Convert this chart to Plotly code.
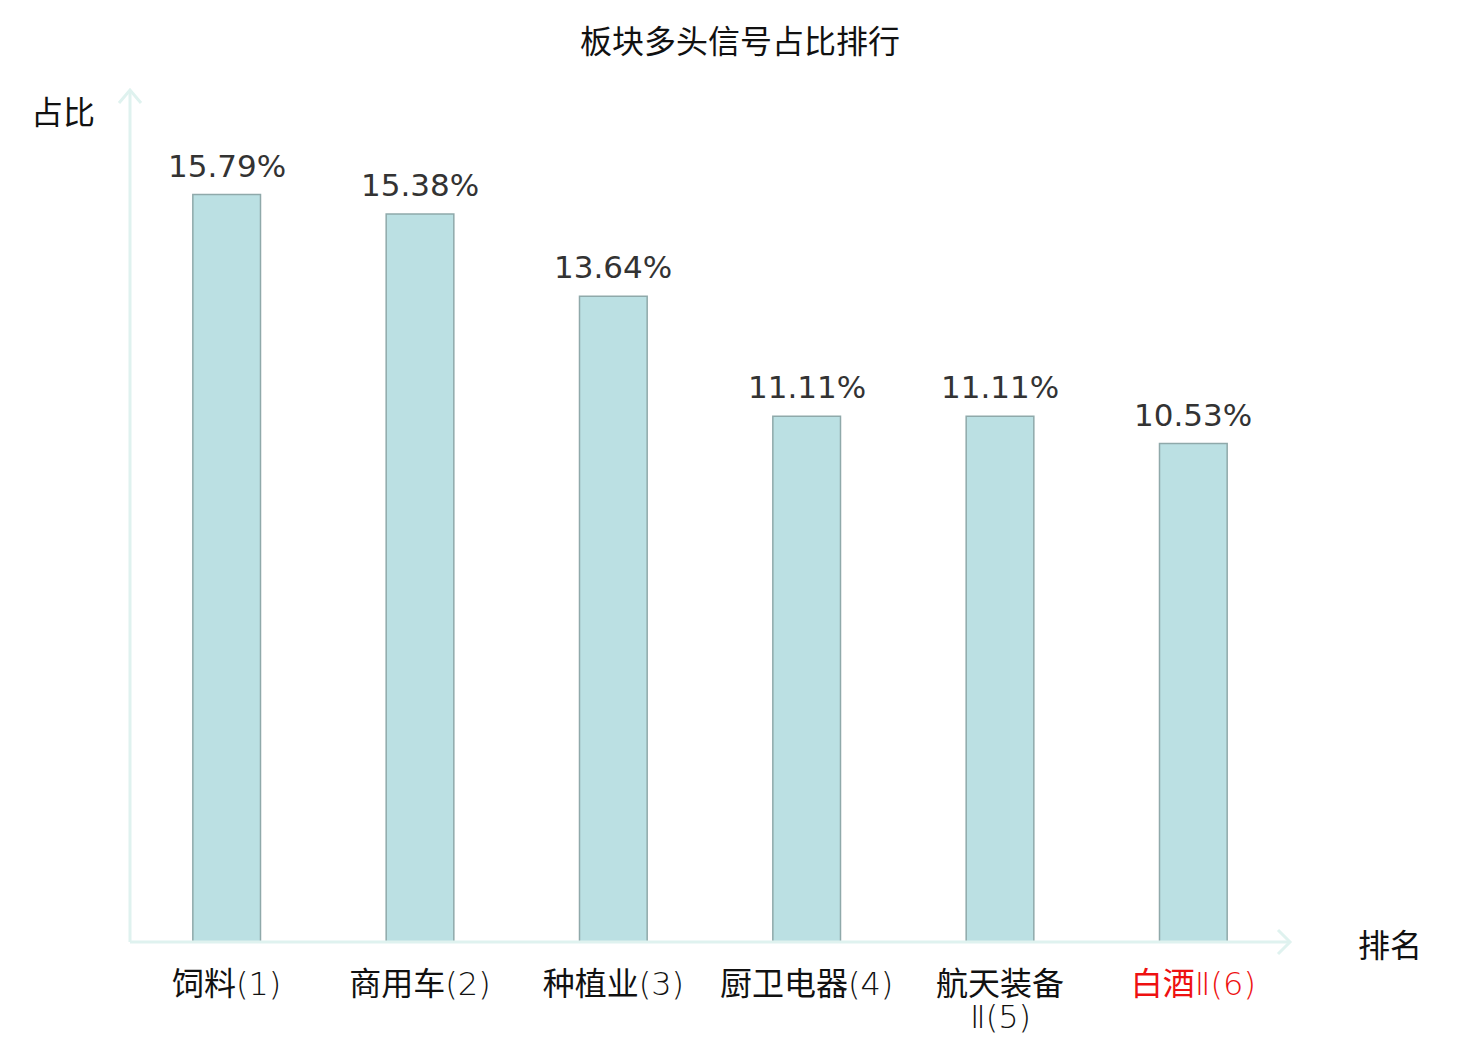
import plotly.graph_objects as go

title = "板块多头信号占比排行"
tick_labels = ["饲料(1)", "商用车(2)", "种植业(3)", "厨卫电器(4)", "航天装备<br>Ⅱ(5)", "白酒Ⅱ(6)"]
highlight = [False, False, False, False, False, True]
values = [15.79, 15.38, 13.64, 11.11, 11.11, 10.53]
value_labels = ["15.79%", "15.38%", "13.64%", "11.11%", "11.11%", "10.53%"]
y_label = "占比"
x_label = "排名"

W, H = 1480, 1040
OFF = 8  # page body margin
L, R, T, B = 130 - OFF, 190 + OFF, 90 - OFF, 106
pw, ph = W - L - R, H - T - B

cjk = "Noto Sans CJK SC"
LATIN = "font-family:'DejaVu Sans';font-weight:200"
TXT = "#111111"


def is_cjk(ch):
    return "\u4e00" <= ch <= "\u9fff"


def style_seg(seg):
    out, buf, mode = [], "", None
    for ch in seg:
        m = is_cjk(ch)
        if mode is not None and m != mode:
            out.append(buf if mode else f"<span style=\"{LATIN}\">{buf}</span>")
            buf = ""
        buf += ch
        mode = m
    if buf:
        out.append(buf if mode else f"<span style=\"{LATIN}\">{buf}</span>")
    return "".join(out)


def colorize(txt, hl):
    return f"<span style='color:#ee1111'>{txt}</span>" if hl else txt


x = list(range(len(tick_labels)))
ticktext = []
extra_lines = []
for i, (c, h) in enumerate(zip(tick_labels, highlight)):
    parts = c.split("<br>")
    ticktext.append(colorize(style_seg(parts[0]), h))
    for k, p in enumerate(parts[1:], start=1):
        extra_lines.append((i, k, colorize(style_seg(p), h)))

fig = go.Figure(go.Bar(
    x=x, y=values, width=0.35,
    marker=dict(color="#bbe0e3", line=dict(color="#8fa9aa", width=1.5)),
    hoverinfo="skip",
))

axis_col = "#dff2ef"
ax = 12 / pw
ay = 12 / ph
shapes = [
    dict(type="line", xref="paper", yref="paper", x0=0, y0=0, x1=1, y1=0, line=dict(color=axis_col, width=3)),
    dict(type="line", xref="paper", yref="paper", x0=0, y0=0, x1=0, y1=1, line=dict(color=axis_col, width=3)),
    dict(type="path", xref="paper", yref="paper",
         path=f"M {1-ax},{ay} L 1,0 L {1-ax},{-ay}", line=dict(color=axis_col, width=3)),
    dict(type="path", xref="paper", yref="paper",
         path=f"M {-11/pw},{1-13/ph} L 0,1 L {11/pw},{1-13/ph}", line=dict(color=axis_col, width=3)),
]


def px(xp):
    return (xp - OFF - L) / pw


annotations = [
    dict(text=t, x=xi, y=v, xref="x", yref="y", yanchor="middle", yshift=29, showarrow=False,
         font=dict(family="DejaVu Sans", size=31, color="#333333"))
    for xi, v, t in zip(x, values, value_labels)
]
for i, k, t in extra_lines:
    annotations.append(dict(text=t, x=i, xref="x", y=0, yref="paper", yanchor="middle",
                            yshift=-(42 + 33 * k), showarrow=False,
                            font=dict(family=cjk, size=32, color=TXT)))
annotations += [
    dict(text=y_label, xref="paper", yref="paper", x=px(63), y=1, yshift=-20,
         xanchor="center", yanchor="middle", showarrow=False, font=dict(family=cjk, size=32, color=TXT)),
    dict(text=x_label, xref="paper", yref="paper", x=px(1390), y=0, yshift=-1,
         xanchor="center", yanchor="middle", showarrow=False, font=dict(family=cjk, size=32, color=TXT)),
]

fig.update_layout(
    width=W, height=H,
    margin=dict(l=L, r=R, t=T, b=B),
    plot_bgcolor="white", paper_bgcolor="white",
    showlegend=False,
    title=dict(text=title, x=(740 - OFF) / W, xanchor="center", y=1 - (42 - OFF) / H, yanchor="middle",
               yref="container", font=dict(family=cjk, size=32, color=TXT)),
    xaxis=dict(range=[-0.5, len(tick_labels) - 0.5], tickvals=x, ticktext=ticktext,
               showgrid=False, zeroline=False, showline=False, ticks="outside", ticklen=14,
               tickcolor="rgba(0,0,0,0)",
               tickfont=dict(family=cjk, size=32, color=TXT)),
    yaxis=dict(range=[0, 18], showgrid=False, zeroline=False, showline=False, showticklabels=False),
    shapes=shapes,
    annotations=annotations,
)
fig.write_html("out.html")
